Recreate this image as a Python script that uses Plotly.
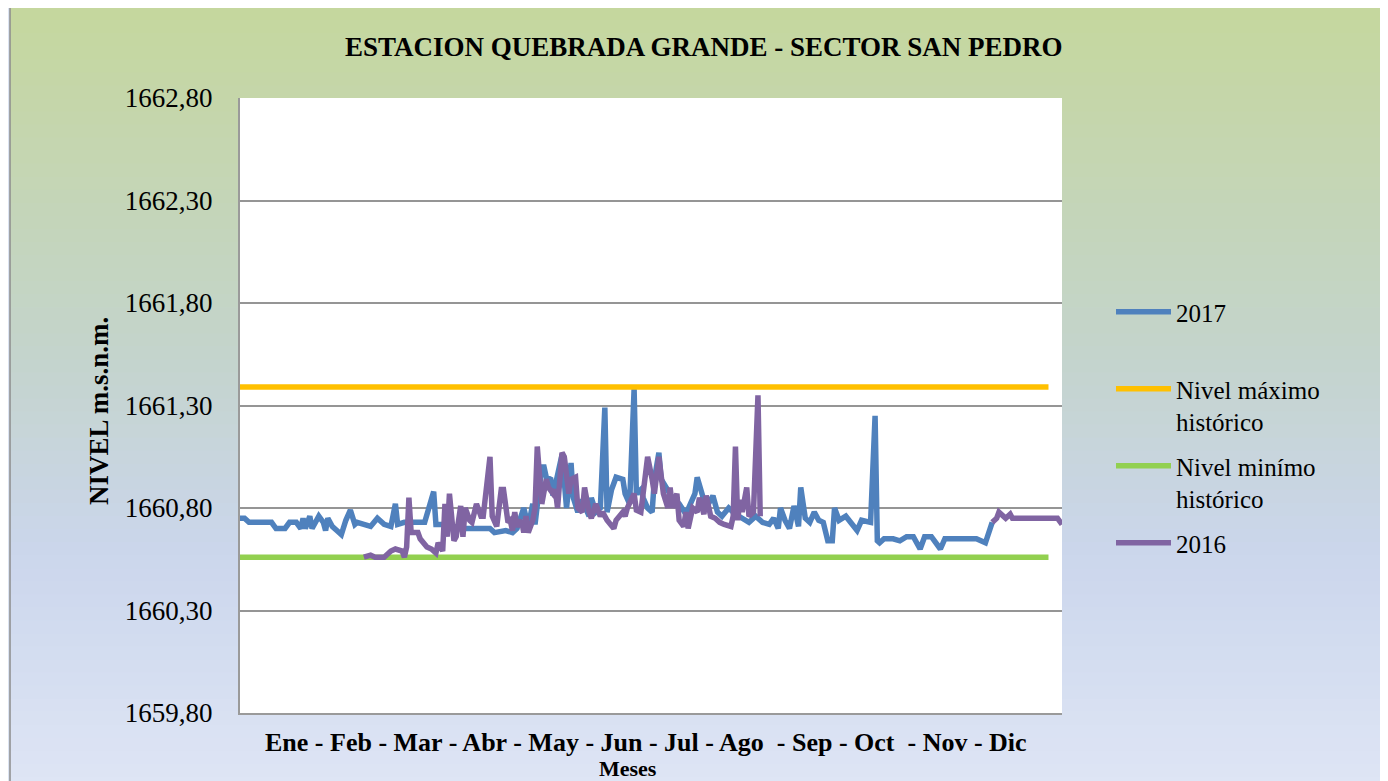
import plotly.graph_objects as go

# ---------------- data ----------------
dias_2017 = [0, 2, 4, 14, 16, 20, 22, 25, 27, 28, 29, 31, 32, 34, 35, 37, 38, 39, 41, 43,
             45, 47, 49, 51, 52, 55, 58, 61, 64, 67, 69, 70, 73, 78, 82, 86, 87, 91, 99, 107,
             111, 113, 118, 121, 123, 126, 128, 130, 131, 134, 135, 136, 138, 139, 143, 145, 147, 148, 150, 152,
             155, 156, 158, 160, 162, 163, 165, 167, 170, 171, 173, 175, 176, 178, 179, 181, 183, 184, 186, 187,
             190, 192, 195, 198, 200, 202, 203, 205, 207, 210, 212, 214, 217, 219, 220, 223, 226, 229, 232, 235,
             237, 239, 240, 242, 244, 246, 248, 249, 251, 253, 255, 257, 259, 261, 263, 264, 266, 269, 271, 274,
             276, 279, 280, 282, 283, 284, 286, 290, 293, 296, 299, 302, 304, 307, 311, 313, 327, 331, 332, 334]
nivel_2017 = [1660.75, 1660.75, 1660.73, 1660.73, 1660.70, 1660.70, 1660.73, 1660.73, 1660.70, 1660.75,
              1660.70, 1660.76, 1660.70, 1660.74, 1660.76, 1660.73, 1660.69, 1660.75, 1660.71, 1660.69,
              1660.67, 1660.74, 1660.79, 1660.72, 1660.73, 1660.72, 1660.71, 1660.75, 1660.72, 1660.71,
              1660.82, 1660.72, 1660.73, 1660.73, 1660.73, 1660.88, 1660.72, 1660.72, 1660.70, 1660.70,
              1660.70, 1660.68, 1660.69, 1660.68, 1660.70, 1660.80, 1660.71, 1660.82, 1660.72, 1661.00,
              1661.00, 1660.95, 1660.94, 1660.86, 1661.06, 1660.80, 1661.02, 1660.85, 1660.78, 1660.84,
              1660.76, 1660.85, 1660.78, 1660.80, 1661.29, 1660.78, 1660.89, 1660.95, 1660.94, 1660.87,
              1660.82, 1661.38, 1660.87, 1660.89, 1660.85, 1660.80, 1660.78, 1660.94, 1661.07, 1660.94,
              1660.89, 1660.85, 1660.82, 1660.77, 1660.82, 1660.87, 1660.95, 1660.87, 1660.80, 1660.86,
              1660.78, 1660.76, 1660.80, 1660.78, 1660.77, 1660.75, 1660.73, 1660.76, 1660.73, 1660.72,
              1660.75, 1660.70, 1660.80, 1660.74, 1660.70, 1660.81, 1660.71, 1660.90, 1660.75, 1660.73,
              1660.78, 1660.74, 1660.73, 1660.64, 1660.64, 1660.80, 1660.74, 1660.76, 1660.73, 1660.69,
              1660.74, 1660.73, 1660.73, 1661.25, 1660.64, 1660.63, 1660.65, 1660.65, 1660.64, 1660.66,
              1660.66, 1660.60, 1660.66, 1660.66, 1660.60, 1660.65, 1660.65, 1660.63, 1660.66, 1660.73]

dias_2016 = [55, 58, 60, 64, 67, 69, 72, 73, 74, 75, 76, 79, 80, 83, 85, 87, 88, 90, 91, 92,
             93, 94, 95, 96, 98, 99, 100, 102, 103, 105, 107, 108, 111, 112, 114, 116, 117, 119, 120, 121,
             122, 123, 125, 126, 127, 128, 130, 131, 132, 134, 135, 136, 137, 139, 140, 141, 143, 144, 146, 147,
             149, 150, 152, 153, 155, 156, 158, 160, 161, 163, 166, 167, 170, 171, 172, 175, 176, 178, 179, 181,
             183, 184, 186, 188, 190, 191, 192, 194, 195, 197, 198, 199, 201, 203, 204, 206, 207, 209, 211, 213,
             215, 218, 219, 220, 221, 222, 223, 225, 226, 228, 230, 231, 280,
             334, 336, 337, 340, 342, 343, 363, 365]
nivel_2016 = [1660.56, 1660.57, 1660.56, 1660.56, 1660.59, 1660.60, 1660.59, 1660.56, 1660.61, 1660.85,
              1660.68, 1660.68, 1660.65, 1660.61, 1660.60, 1660.58, 1660.63, 1660.59, 1660.82, 1660.66,
              1660.87, 1660.78, 1660.64, 1660.66, 1660.81, 1660.66, 1660.80, 1660.74, 1660.73, 1660.82,
              1660.76, 1660.76, 1661.05, 1660.76, 1660.71, 1660.89, 1660.89, 1660.73, 1660.74, 1660.69,
              1660.78, 1660.71, 1660.74, 1660.68, 1660.76, 1660.68, 1660.74, 1660.80, 1661.10, 1660.82,
              1660.89, 1660.94, 1660.90, 1660.87, 1660.89, 1660.80, 1661.07, 1661.05, 1660.87, 1660.94,
              1660.95, 1660.80, 1660.78, 1660.90, 1660.78, 1660.75, 1660.82, 1660.76, 1660.78, 1660.74,
              1660.70, 1660.74, 1660.78, 1660.76, 1660.80, 1660.87, 1660.79, 1660.78, 1660.87, 1661.05,
              1660.94, 1660.87, 1661.05, 1660.87, 1660.80, 1660.90, 1660.80, 1660.87, 1660.74, 1660.71,
              1660.78, 1660.70, 1660.80, 1660.78, 1660.85, 1660.77, 1660.86, 1660.76, 1660.75, 1660.73,
              1660.72, 1660.71, 1660.76, 1661.10, 1660.74, 1660.84, 1660.78, 1660.90, 1660.76, 1660.78,
              1661.35, 1660.76, None,
              1660.73, 1660.75, 1660.78, 1660.75, 1660.77, 1660.75, 1660.75, 1660.72]

dias_historico = [0, 359]
nivel_maximo = [1661.39, 1661.39]
nivel_minimo = [1660.56, 1660.56]

y_ticks = [1659.80, 1660.30, 1660.80, 1661.30, 1661.80, 1662.30, 1662.80]
meses = ["Ene", "Feb", "Mar", "Abr", "May", "Jun", "Jul", "Ago", "Sep", "Oct", "Nov", "Dic"]
titulo = "ESTACION QUEBRADA GRANDE - SECTOR SAN PEDRO"
eje_y = "NIVEL m.s.n.m."
eje_x = "Meses"

# ---------------- figure ----------------
W, H = 1388, 781
L, R, T, B = 240, 1062, 98, 713     # plot area in the page (pixels)
OFF = 8                             # page body margin of the html file
FONT = "Liberation Serif"


def px(xp):
    return (xp - L) / (R - L)


def py(yp):
    return (B - yp) / (B - T)


fig = go.Figure()
fig.add_trace(go.Scatter(x=dias_2017, y=nivel_2017, mode="lines", name="2017<br> ", legendgroup="a",
                         line=dict(color="#4F81BD", width=5.5), hoverinfo="skip"))
fig.add_trace(go.Scatter(x=dias_historico, y=nivel_maximo, mode="lines", name="Nivel máximo<br>histórico",
                         legendgroup="b", line=dict(color="#FFC000", width=5.5), hoverinfo="skip"))
fig.add_trace(go.Scatter(x=dias_historico, y=nivel_minimo, mode="lines", name="Nivel minímo<br>histórico",
                         legendgroup="c", line=dict(color="#92D050", width=5.5), hoverinfo="skip"))
fig.add_trace(go.Scatter(x=dias_2016, y=nivel_2016, mode="lines", name="2016", legendgroup="d",
                         line=dict(color="#8064A2", width=5.5), hoverinfo="skip", connectgaps=False))

shapes = []
stops = [(0.0, (197, 215, 158)), (0.45, (196, 212, 205)), (0.7, (203, 214, 236)), (1.0, (222, 229, 245))]


def col(t):
    for i in range(len(stops) - 1):
        a, ca = stops[i]
        b, cb = stops[i + 1]
        if a <= t <= b:
            f = (t - a) / (b - a)
            c = [round(ca[k] + (cb[k] - ca[k]) * f) for k in range(3)]
            return "rgb(%d,%d,%d)" % tuple(c)
    return "rgb(%d,%d,%d)" % stops[-1][1]


nb = 60
top, bot = 7, 790
for i in range(nb):
    y0 = top + (bot - top) * i / nb
    y1 = top + (bot - top) * (i + 1) / nb + 1
    shapes.append(dict(type="rect", xref="paper", yref="paper", layer="below",
                       x0=px(10), x1=px(1400), y0=py(y1), y1=py(y0),
                       line=dict(width=0), fillcolor=col(i / (nb - 1))))
shapes.append(dict(type="rect", xref="paper", yref="paper", layer="below",
                   x0=px(10), x1=px(1400), y0=py(800), y1=py(7),
                   line=dict(color="#8C8C8C", width=1.5), fillcolor="rgba(0,0,0,0)"))
shapes.append(dict(type="rect", xref="x", yref="y", layer="below",
                   x0=0, x1=365, y0=y_ticks[0], y1=y_ticks[-1],
                   line=dict(width=0), fillcolor="white"))

fig.update_layout(
    width=W, height=H,
    margin=dict(l=L - OFF, r=W - (R - OFF), t=T - OFF, b=H - (B - OFF)),
    paper_bgcolor="#DCE4F2",
    plot_bgcolor="rgba(0,0,0,0)",
    separators=",.",
    shapes=shapes,
    showlegend=True,
    legend=dict(x=px(1111), y=py(289), xanchor="left", yanchor="top",
                font=dict(family=FONT, size=25, color="black"),
                bgcolor="rgba(0,0,0,0)", tracegroupgap=9, traceorder="grouped",
                valign="top", itemwidth=55),
    xaxis=dict(range=[0, 365], showticklabels=False, showgrid=False, zeroline=False,
               showline=True, linecolor="#9A9A9A", linewidth=2, ticks=""),
    yaxis=dict(range=[y_ticks[0], y_ticks[-1]], tickvals=y_ticks, tickformat=".2f",
               showgrid=True, gridcolor="#959595", gridwidth=2, zeroline=False,
               showline=True, linecolor="#9A9A9A", linewidth=2, ticks="",
               ticklabelstandoff=20,
               tickfont=dict(family=FONT, size=27, color="black")),
    font=dict(family=FONT, color="black"),
)

fig.add_annotation(text="<b>" + titulo + "</b>", xref="paper", yref="paper",
                   x=px(704), y=py(47), xanchor="center", yanchor="middle", showarrow=False,
                   font=dict(family=FONT, size=27, color="black"))
fig.add_annotation(text="<b>" + eje_y + "</b>", xref="paper", yref="paper",
                   x=px(99), y=py(411), xanchor="center", yanchor="middle", showarrow=False,
                   textangle=-90, font=dict(family=FONT, size=27, color="black"))
etiqueta_meses = " - ".join(meses[:8]) + "\u00a0 - " + " - ".join(meses[8:10]) + "\u00a0 - " + " - ".join(meses[10:])
fig.add_annotation(text="<b>" + etiqueta_meses + "</b>", xref="paper", yref="paper",
                   x=px(646), y=py(742), xanchor="center", yanchor="middle", showarrow=False,
                   font=dict(family=FONT, size=26, color="black"))
fig.add_annotation(text="<b>" + eje_x + "</b>", xref="paper", yref="paper",
                   x=px(628), y=py(768), xanchor="center", yanchor="middle", showarrow=False,
                   font=dict(family=FONT, size=22, color="black"))

fig.write_html("out.html")
